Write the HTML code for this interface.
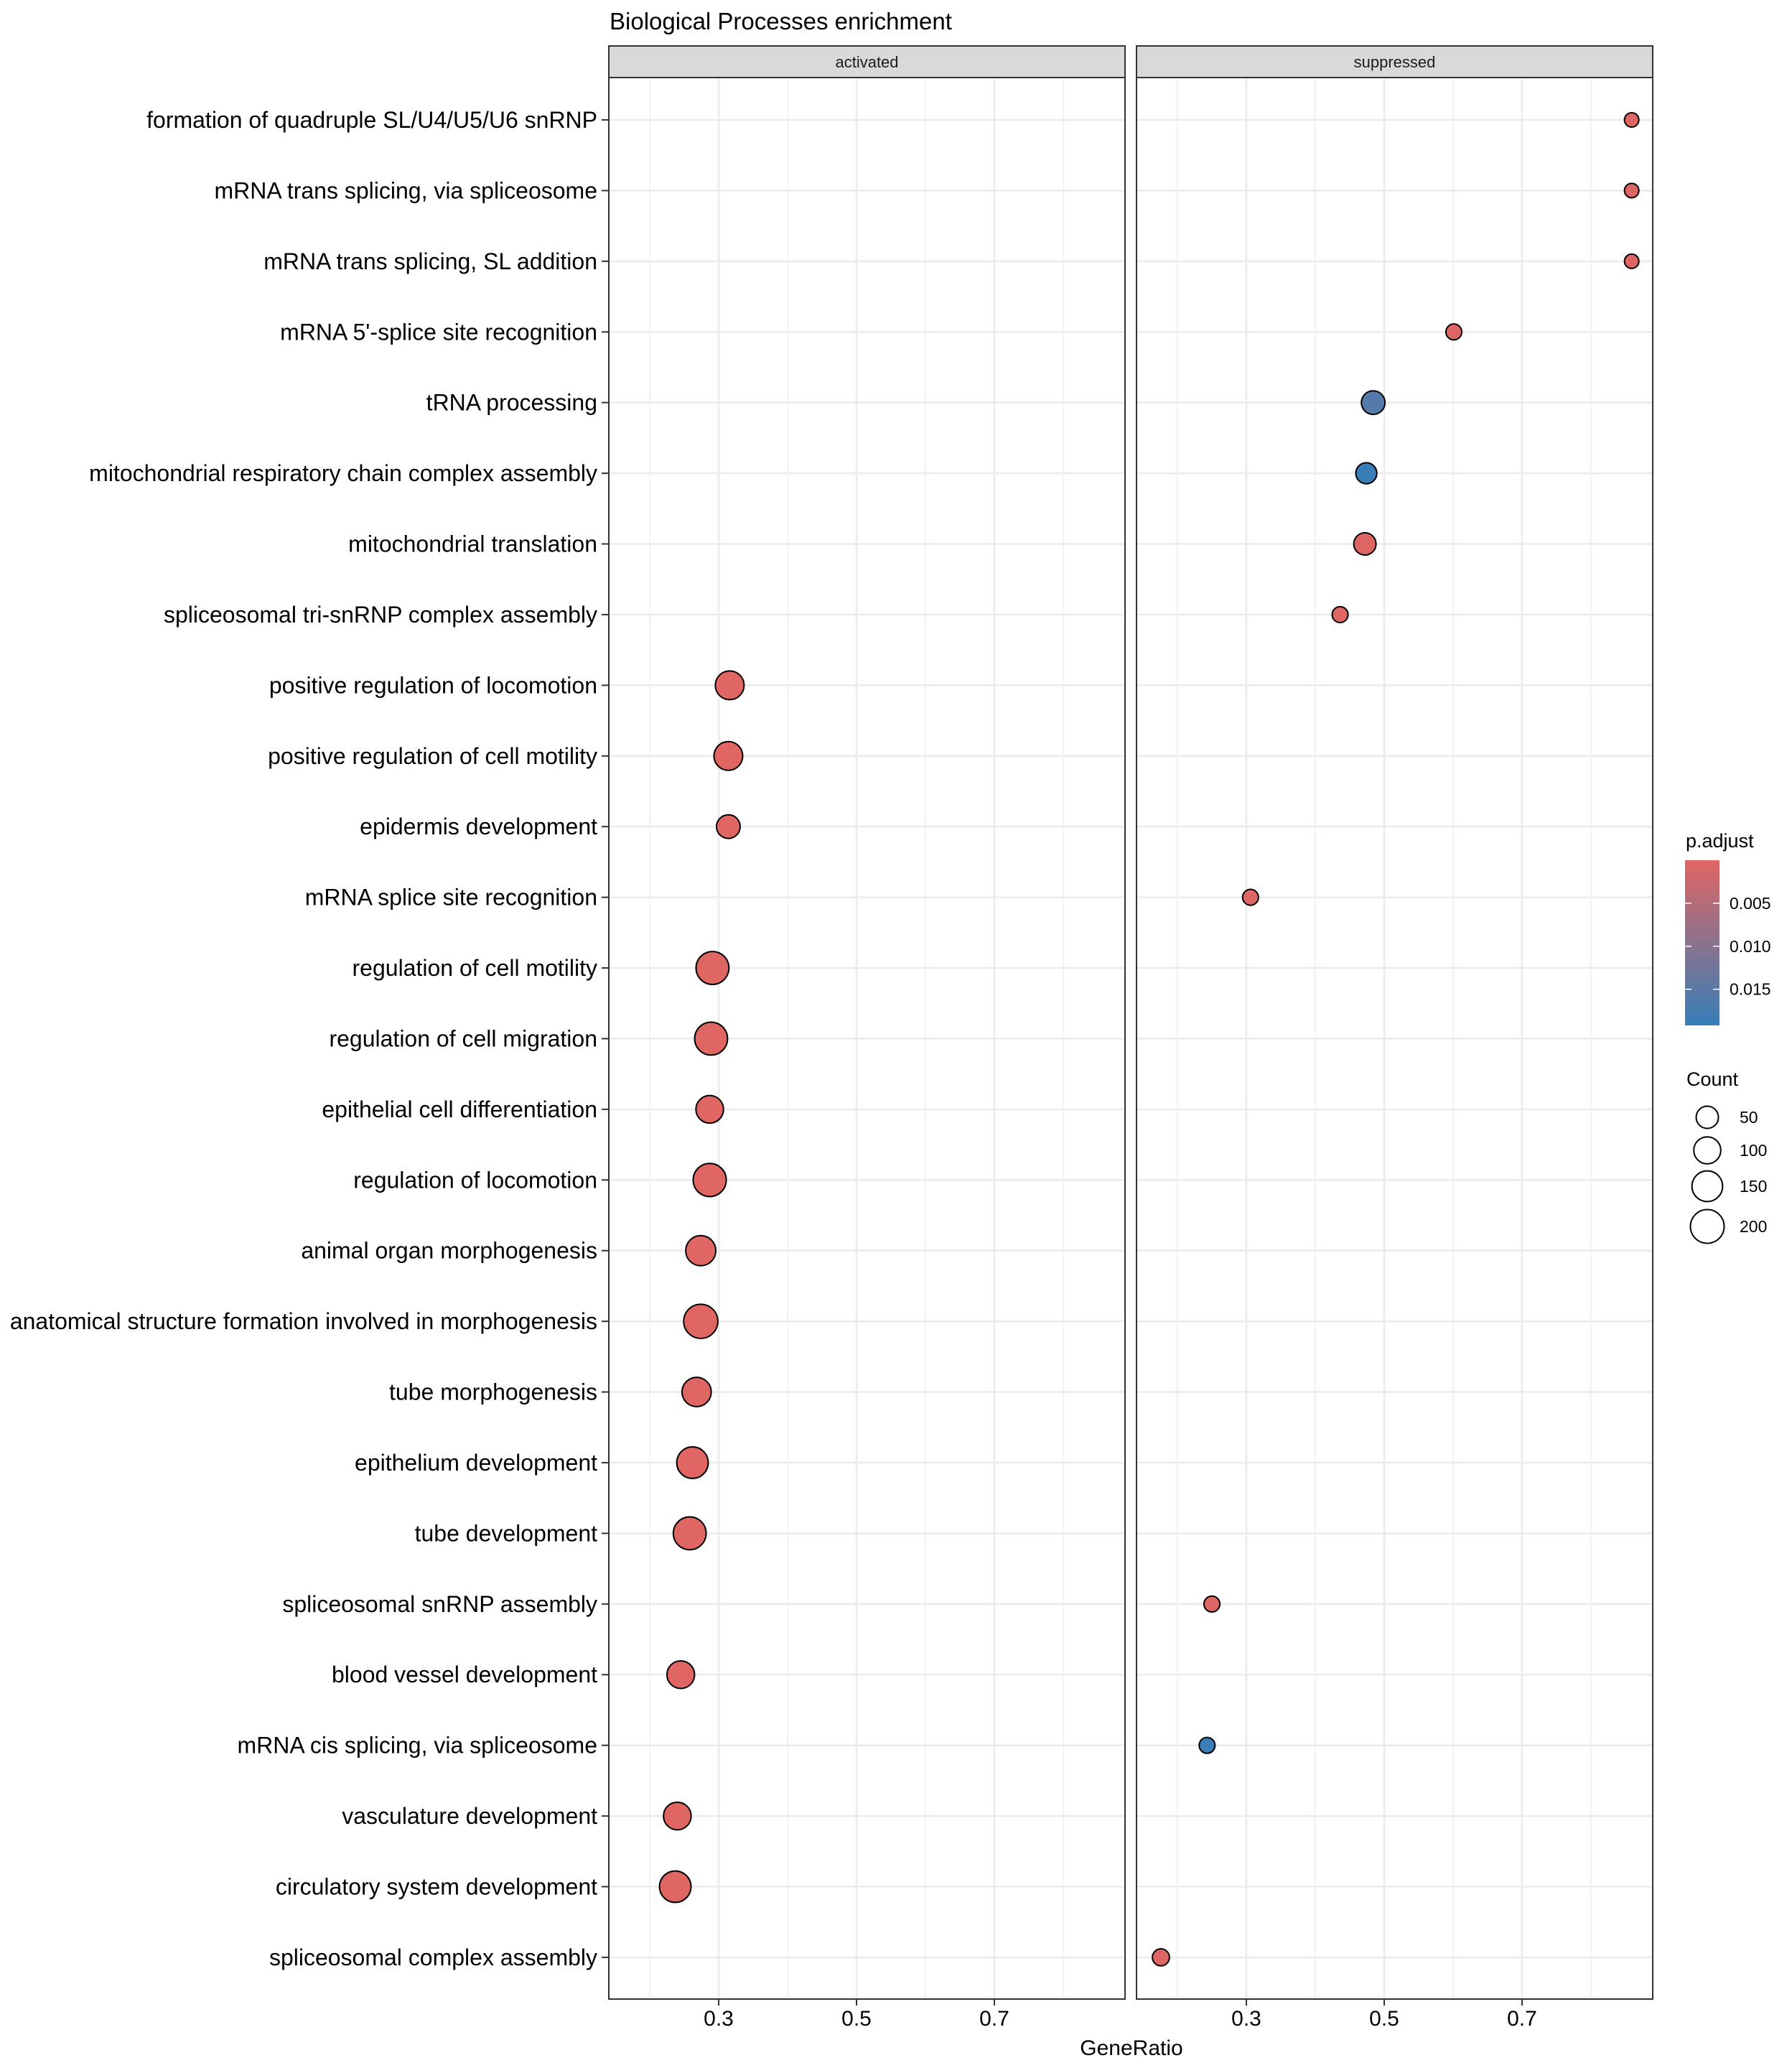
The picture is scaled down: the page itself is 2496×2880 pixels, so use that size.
<!DOCTYPE html>
<html><head><meta charset="utf-8"><style>
html,body{margin:0;padding:0;background:#fff;}
svg{display:block;font-family:"Liberation Sans",Arial,sans-serif;}
</style></head><body>
<svg id="chart" width="2496" height="2880" viewBox="0 0 2496 2880" xmlns="http://www.w3.org/2000/svg">
<rect width="2496" height="2880" fill="#fff"/>
<text x="849" y="41" font-size="33" fill="#000">Biological Processes enrichment</text>
<g id="panels"></g>
<g id="ylabels"></g>
<text x="1576" y="2862" font-size="30" text-anchor="middle">GeneRatio</text>
<g id="legend"></g>
</svg>
<script>
const categories = ["formation of quadruple SL/U4/U5/U6 snRNP","mRNA trans splicing, via spliceosome","mRNA trans splicing, SL addition","mRNA 5'-splice site recognition","tRNA processing","mitochondrial respiratory chain complex assembly","mitochondrial translation","spliceosomal tri-snRNP complex assembly","positive regulation of locomotion","positive regulation of cell motility","epidermis development","mRNA splice site recognition","regulation of cell motility","regulation of cell migration","epithelial cell differentiation","regulation of locomotion","animal organ morphogenesis","anatomical structure formation involved in morphogenesis","tube morphogenesis","epithelium development","tube development","spliceosomal snRNP assembly","blood vessel development","mRNA cis splicing, via spliceosome","vasculature development","circulatory system development","spliceosomal complex assembly"];
const facets = ["activated","suppressed"];
const pointFacet = [1,1,1,1,1,1,1,1,0,0,0,1,0,0,0,0,0,0,0,0,0,1,0,1,0,0,1];
const geneRatio = [0.859,0.859,0.859,0.601,0.484,0.474,0.472,0.436,0.316,0.314,0.314,0.306,0.291,0.289,0.287,0.287,0.274,0.274,0.268,0.262,0.258,0.250,0.245,0.243,0.240,0.237,0.176];
const geneCount = [5,5,5,10,63,40,50,10,123,123,63,10,186,186,108,190,142,208,130,163,185,10,108,10,108,163,15];
const pAdjust = [0.0002,0.0002,0.0002,0.0002,0.016,0.019,0.0003,0.0002,0.0001,0.0001,0.0001,0.0002,0.0001,0.0001,0.0001,0.0001,0.0001,0.0001,0.0001,0.0001,0.0001,0.0002,0.0001,0.019,0.0001,0.0001,0.0003];
const xTicks = [0.3,0.5,0.7];
const xMinor = [0.2,0.4,0.6,0.8];
const pTicks = [0.005,0.010,0.015];
const countTicks = [50,100,150,200];

const NS="http://www.w3.org/2000/svg";
function mk(tag,attrs,parent){const e=document.createElementNS(NS,tag);for(const k in attrs)e.setAttribute(k,attrs[k]);parent.appendChild(e);return e;}
const panelLeft=[848,1583], panelW=719, panelTop=108, panelBottom=2784, stripTop=64;
const xMin=0.1406, pxPerUnit=960;
function xScale(f,v){return panelLeft[f]+(v-xMin)*pxPerUnit;}
function yScale(i){return 167+i*98.42;}
function rScale(c){return 8.5+1.13*Math.sqrt(c);}
const pMin=0, pMax=0.0192;
function colorScale(p){const t=Math.max(0,Math.min(1,(p-pMin)/(pMax-pMin)));
  const a=[224,102,99], b=[55,126,184];
  return `rgb(${a.map((v,i)=>Math.round(v+(b[i]-v)*t)).join(',')})`;}

const panels=document.getElementById('panels');
facets.forEach((f,fi)=>{
  const g=mk('g',{},panels);
  
  
  const L=panelLeft[fi];
  const strip=mk('rect',{x:L,y:stripTop,width:panelW,height:panelTop-stripTop,fill:'#d9d9d9',stroke:'#333','stroke-width':2},g);
  
  
  const st=mk('text',{x:L+panelW/2,y:94,'font-size':22,'text-anchor':'middle',fill:'#1a1a1a'},g);st.textContent=f;
  
  
  xMinor.forEach(v=>{const x=xScale(fi,v);mk('line',{x1:x,x2:x,y1:panelTop,y2:panelBottom,stroke:'#ebebeb','stroke-width':1.3},g);});
  xTicks.forEach(v=>{const x=xScale(fi,v);mk('line',{x1:x,x2:x,y1:panelTop,y2:panelBottom,stroke:'#ebebeb','stroke-width':2.6},g);});
  categories.forEach((c,i)=>{const y=yScale(i);mk('line',{x1:L,x2:L+panelW,y1:y,y2:y,stroke:'#ebebeb','stroke-width':2.6},g);});
  categories.forEach((c,i)=>{ if(pointFacet[i]!==fi) return;
    const pt=mk('circle',{cx:xScale(fi,geneRatio[i]),cy:yScale(i),r:rScale(geneCount[i])-1,fill:colorScale(pAdjust[i]),stroke:'#000','stroke-width':2},g);
    
    
  });
  mk('rect',{x:L,y:panelTop,width:panelW,height:panelBottom-panelTop,fill:'none',stroke:'#333','stroke-width':2},g);
  xTicks.forEach(v=>{const x=xScale(fi,v);
    mk('line',{x1:x,x2:x,y1:panelBottom,y2:panelBottom+9,stroke:'#333','stroke-width':2},g);
    const t=mk('text',{x:x,y:2821,'font-size':30,'text-anchor':'middle',fill:'#000'},g);t.textContent=v.toFixed(1);
    
    
  });
});
const yl=document.getElementById('ylabels');
categories.forEach((c,i)=>{const y=yScale(i);
  mk('line',{x1:838,x2:848,y1:y,y2:y,stroke:'#333','stroke-width':2},yl);
  const t=mk('text',{x:832,y:y+11,'font-size':32,'text-anchor':'end',fill:'#000'},yl);t.textContent=c;
  
  
});
const lg=document.getElementById('legend');
const lt=mk('text',{x:2348,y:1180,'font-size':27},lg);lt.textContent='p.adjust';


const defs=mk('defs',{},lg);const gr=mk('linearGradient',{id:'pg',x1:0,y1:0,x2:0,y2:1},defs);
mk('stop',{offset:'0','stop-color':colorScale(pMin)},gr);mk('stop',{offset:'1','stop-color':colorScale(pMax)},gr);
const barTop=1198,barBot=1428;
const bar=mk('rect',{x:2347,y:barTop,width:48,height:barBot-barTop,fill:'url(#pg)'},lg);


pTicks.forEach(p=>{const y=barTop+(p-pMin)/(pMax-pMin)*(barBot-barTop);
  mk('line',{x1:2347,x2:2356,y1:y,y2:y,stroke:'#fff','stroke-width':1.5},lg);
  mk('line',{x1:2386,x2:2395,y1:y,y2:y,stroke:'#fff','stroke-width':1.5},lg);
  const t=mk('text',{x:2409,y:y+8,'font-size':23},lg);t.textContent=p.toFixed(3);
  
  
});
const ct=mk('text',{x:2349,y:1512,'font-size':27},lg);ct.textContent='Count';


const legendY=[1556,1602,1652,1708];
countTicks.forEach((c,i)=>{
  const k=mk('circle',{cx:2378,cy:legendY[i],r:rScale(c)-1,fill:'none',stroke:'#000','stroke-width':2},lg);
  
  
  const t=mk('text',{x:2423,y:legendY[i]+8,'font-size':23},lg);t.textContent=c;
  
  
});
</script>
</body></html>
